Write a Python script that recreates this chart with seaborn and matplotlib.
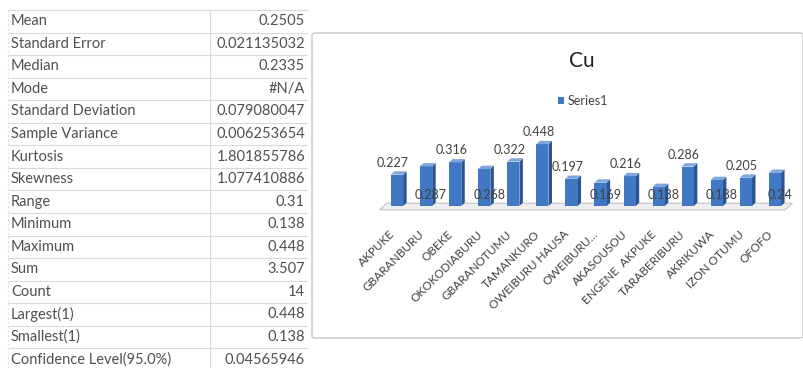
import matplotlib
matplotlib.use("Agg")
import matplotlib.pyplot as plt
import seaborn as sns
import pandas as pd
from matplotlib.patches import Polygon, FancyBboxPatch, Patch
from matplotlib.lines import Line2D
from matplotlib.transforms import ScaledTranslation

# ---------------- data ----------------
stat_labels = ["Mean", "Standard Error", "Median", "Mode", "Standard Deviation",
               "Sample Variance", "Kurtosis", "Skewness", "Range", "Minimum",
               "Maximum", "Sum", "Count", "Largest(1)", "Smallest(1)",
               "Confidence Level(95.0%)"]
stat_values = ["0.2505", "0.021135032", "0.2335", "#N/A", "0.079080047",
               "0.006253654", "1.801855786", "1.077410886", "0.31", "0.138",
               "0.448", "3.507", "14", "0.448", "0.138", "0.04565946"]

sites = ["AKPUKE", "GBARANBURU", "OBEKE", "OKOKODIABURU", "GBARANOTUMU",
         "TAMANKURO", "OWEIBURU HAUSA", "OWEIBURU…", "AKASOUSOU",
         "ENGENE  AKPUKE", "TARABERIBURU", "AKRIKUWA", "IZON OTUMU", "OFOFO"]
cu = [0.227, 0.287, 0.316, 0.268, 0.322, 0.448, 0.197, 0.169, 0.216,
      0.138, 0.286, 0.188, 0.205, 0.24]
series_name = "Series1"
chart_title = "Cu"

# label placement style (Excel put alternate labels inside the columns)
label_inside = [False, True, False, True, False, False, False, True, False,
                True, False, True, False, True]

# ---------------- style ----------------
sns.set_theme(style="white")
plt.rcParams["font.family"] = ["Lato", "DejaVu Sans"]
W, H = 804, 368
fig = plt.figure(figsize=(W / 100, H / 100), dpi=100)
fig.patch.set_facecolor("white")


def fx(px):
    return px / W


def fy(py):
    return 1 - py / H


text_col = "#404040"
table_col = "#505050"
grid_col = "#dadada"

# ---------------- table ----------------
row_h = 22.55
top = 10
for i in range(len(stat_labels) + 1):
    y = top + i * row_h
    fig.add_artist(Line2D([fx(8), fx(307)], [fy(y), fy(y)], color=grid_col,
                          lw=0.8, transform=fig.transFigure))
fig.add_artist(Line2D([fx(210), fx(210)], [fy(top), fy(H)], color=grid_col,
                      lw=0.8, transform=fig.transFigure))
fig.add_artist(Line2D([fx(8), fx(8)], [fy(top), fy(H)], color="#e4e4e4",
                      lw=0.8, ls=(0, (2, 2)), transform=fig.transFigure))
for i, (lab, val) in enumerate(zip(stat_labels, stat_values)):
    yc = top + (i + 0.5) * row_h
    fig.text(fx(11), fy(yc), lab, ha="left", va="center", fontsize=10.5,
             color=table_col)
    fig.text(fx(305), fy(yc), val, ha="right", va="center", fontsize=10.5,
             color=table_col)

# ---------------- chart frame ----------------
frame = FancyBboxPatch((fx(312), fy(338)), fx(803) - fx(312), fy(33) - fy(338),
                       boxstyle="round,pad=0,rounding_size=0.004",
                       transform=fig.transFigure, facecolor="white",
                       edgecolor="#c8c8c8", lw=1.0, zorder=-5)
fig.add_artist(frame)

fig.text(fx(582), fy(61), chart_title, ha="center", va="center", fontsize=15,
         color="#222222")

# ---------------- bars ----------------
front = "#4078c3"
side = "#2a5593"
topc = "#7ea6dc"
ax = fig.add_axes([fx(382.5), fy(206), 407 / W, 69 / H])
df = pd.DataFrame({"site": sites, "cu": cu})
sns.barplot(data=df, x="site", y="cu", color=front, saturation=1, width=0.42,
            ax=ax, zorder=3, edgecolor="none")
ax.set_xlim(-0.5, len(sites) - 0.5)
ax.set_ylim(0, 0.5)
for s in ax.spines.values():
    s.set_visible(False)
ax.set_yticks([])
ax.set_xlabel("")
ax.set_ylabel("")
ax.patch.set_alpha(0)

bars = list(ax.patches)

# floor of the 3D plot
n = len(sites)
floor = Polygon([(-0.6, -0.028), (n - 0.65, -0.028), (n - 0.4, 0.02),
                 (-0.35, 0.02)], closed=True, facecolor="#eeeeee",
                edgecolor="#c4c4c4", lw=0.8, zorder=1, clip_on=False)
ax.add_patch(floor)

# 3D side / top faces derived from the drawn bars
d, dy = 0.12, 0.024
for p in bars:
    x0 = p.get_x()
    x1 = x0 + p.get_width()
    h = p.get_height()
    ax.add_patch(Polygon([(x1, 0), (x1 + d, dy), (x1 + d, h + dy), (x1, h)],
                         closed=True, facecolor=side, edgecolor="none",
                         zorder=2.9, clip_on=False))
    ax.add_patch(Polygon([(x0, h), (x0 + d, h + dy), (x1 + d, h + dy), (x1, h)],
                         closed=True, facecolor=topc, edgecolor="none",
                         zorder=3.1, clip_on=False))

# data labels
for i, (v, inside) in enumerate(zip(cu, label_inside)):
    txt = f"{v:g}"
    if inside:
        ax.annotate(txt, (i, 0), xytext=(5, 11), textcoords="offset pixels",
                    ha="center", va="center", fontsize=9, color=text_col,
                    zorder=5, annotation_clip=False)
    else:
        ax.annotate(txt, (i, v), xytext=(-4, 12), textcoords="offset pixels",
                    ha="center", va="center", fontsize=9, color=text_col,
                    zorder=5, annotation_clip=False)

# category labels
ax.set_xticks(range(n))
ax.set_xticklabels(sites, rotation=45, ha="right", va="center",
                   rotation_mode="anchor", fontsize=8.5, color=text_col)
ax.tick_params(axis="x", length=0, pad=19)
for lbl in ax.get_xticklabels():
    lbl.set_transform(lbl.get_transform() +
                      ScaledTranslation(-4 / 100, 0, fig.dpi_scale_trans))

# legend
ax.legend(handles=[Patch(facecolor=front, edgecolor="none")],
          labels=[series_name], loc="center",
          bbox_to_anchor=(fx(583), fy(101)), bbox_transform=fig.transFigure,
          frameon=False, fontsize=9, handlelength=0.5, handleheight=0.5,
          handletextpad=0.3, labelcolor=text_col)

fig.savefig("out.png", dpi=100, facecolor="white")
